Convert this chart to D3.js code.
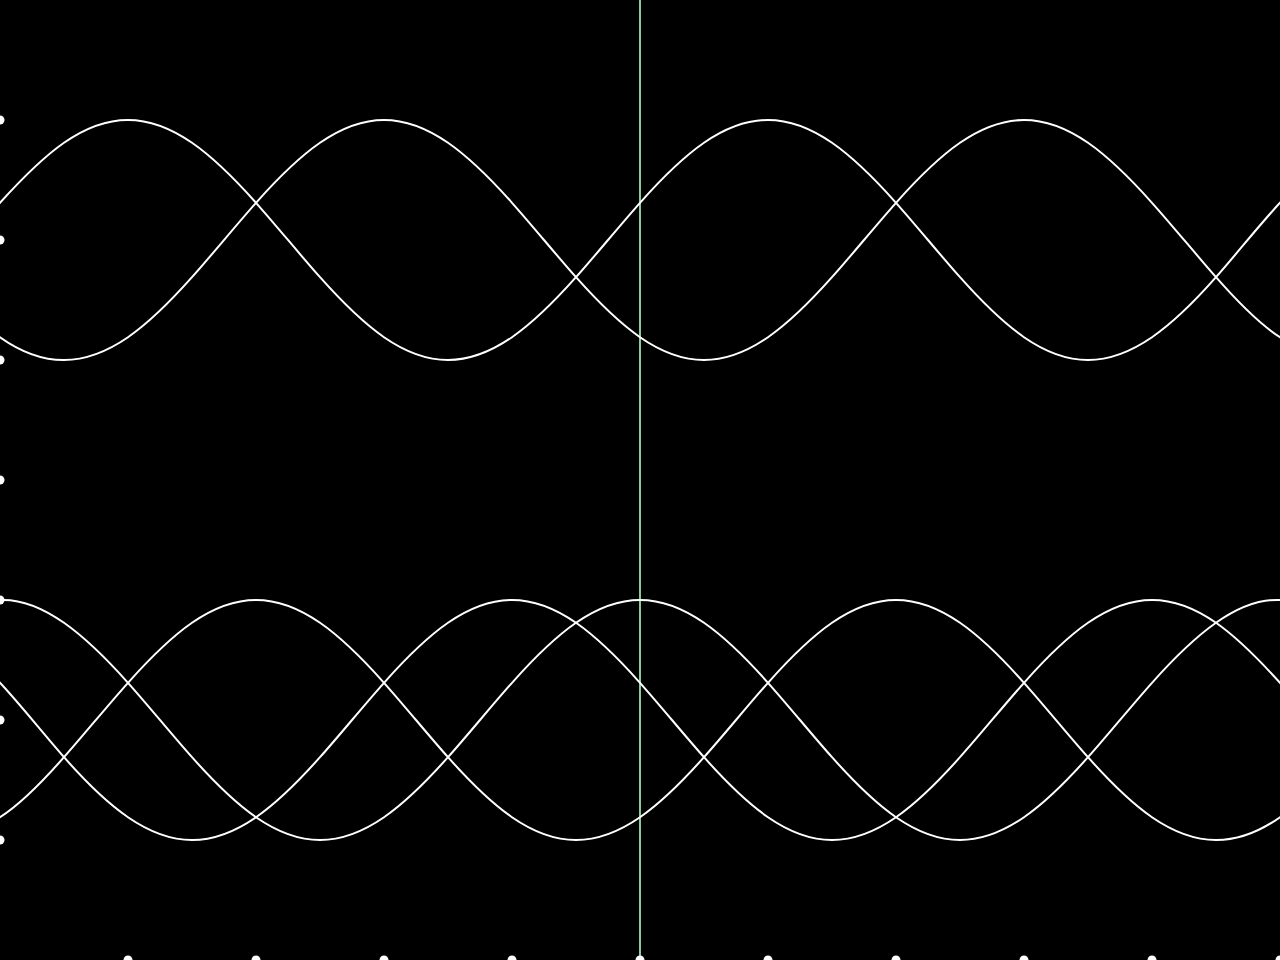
<!DOCTYPE html>
<html>
<head>
<meta charset="utf-8">
<script src="https://cdn.jsdelivr.net/npm/d3@7"></script>
<style>
html, body { margin: 0; padding: 0; background: #000; overflow: hidden; }
svg { display: block; background: #000; }
</style>
</head>
<body>
<script>
// x positions (domain units); first and last samples lie just outside the visible range
const xValues = [-0.5,0,0.5,1,1.5,2,2.5,3,3.5,4,4.5,5,5.5,6,6.5,7,7.5,8,8.5,9,9.5,10,10.5];
// upper group
const seriesA = [5.69,6.31,6.81,7,6.81,6.31,5.69,5.19,5,5.19,5.69,6.31,6.81,7,6.81,6.31,5.69,5.19,5,5.19,5.69,6.31,6.81];
const seriesB = [5.69,5.19,5,5.19,5.69,6.31,6.81,7,6.81,6.31,5.69,5.19,5,5.19,5.69,6.31,6.81,7,6.81,6.31,5.69,5.19,5];
// lower group
const seriesC = [2.81,3,2.81,2.31,1.69,1.19,1,1.19,1.69,2.31,2.81,3,2.81,2.31,1.69,1.19,1,1.19,1.69,2.31,2.81,3,2.81];
const seriesD = [1,1.19,1.69,2.31,2.81,3,2.81,2.31,1.69,1.19,1,1.19,1.69,2.31,2.81,3,2.81,2.31,1.69,1.19,1,1.19,1.69];
const seriesE = [2.81,2.31,1.69,1.19,1,1.19,1.69,2.31,2.81,3,2.81,2.31,1.69,1.19,1,1.19,1.69,2.31,2.81,3,2.81,2.31,1.69];
const xTicks = [1,2,3,4,5,6,7,8,9,10];
const yTicks = [1,2,3,4,5,6,7];
const markerX = 5;

const W = 1280, H = 960;
const svg = d3.select("body").append("svg").attr("width", W).attr("height", H);

const x = d3.scaleLinear().domain([0, 10]).range([0, W]);
const y = d3.scaleLinear().domain([0, 8]).range([H, 0]);

// vertical marker
svg.append("line")
  .attr("x1", x(markerX)).attr("x2", x(markerX))
  .attr("y1", 0).attr("y2", H)
  .attr("stroke", "#8cc69e").attr("stroke-width", 2);

const line = d3.line()
  .x((d, i) => x(xValues[i]))
  .y(d => y(d))
  .curve(d3.curveNatural);

[seriesA, seriesB, seriesC, seriesD, seriesE].forEach(s => {
  svg.append("path")
    .datum(s)
    .attr("d", line)
    .attr("fill", "none")
    .attr("stroke", "#ffffff")
    .attr("stroke-width", 2);
});

// axis dots
svg.append("g").selectAll("circle").data(yTicks).join("circle")
  .attr("cx", 0).attr("cy", d => y(d)).attr("r", 4.5).attr("fill", "#fff");
svg.append("g").selectAll("circle").data(xTicks).join("circle")
  .attr("cx", d => x(d)).attr("cy", H).attr("r", 4.5).attr("fill", "#fff");
</script>
</body>
</html>
